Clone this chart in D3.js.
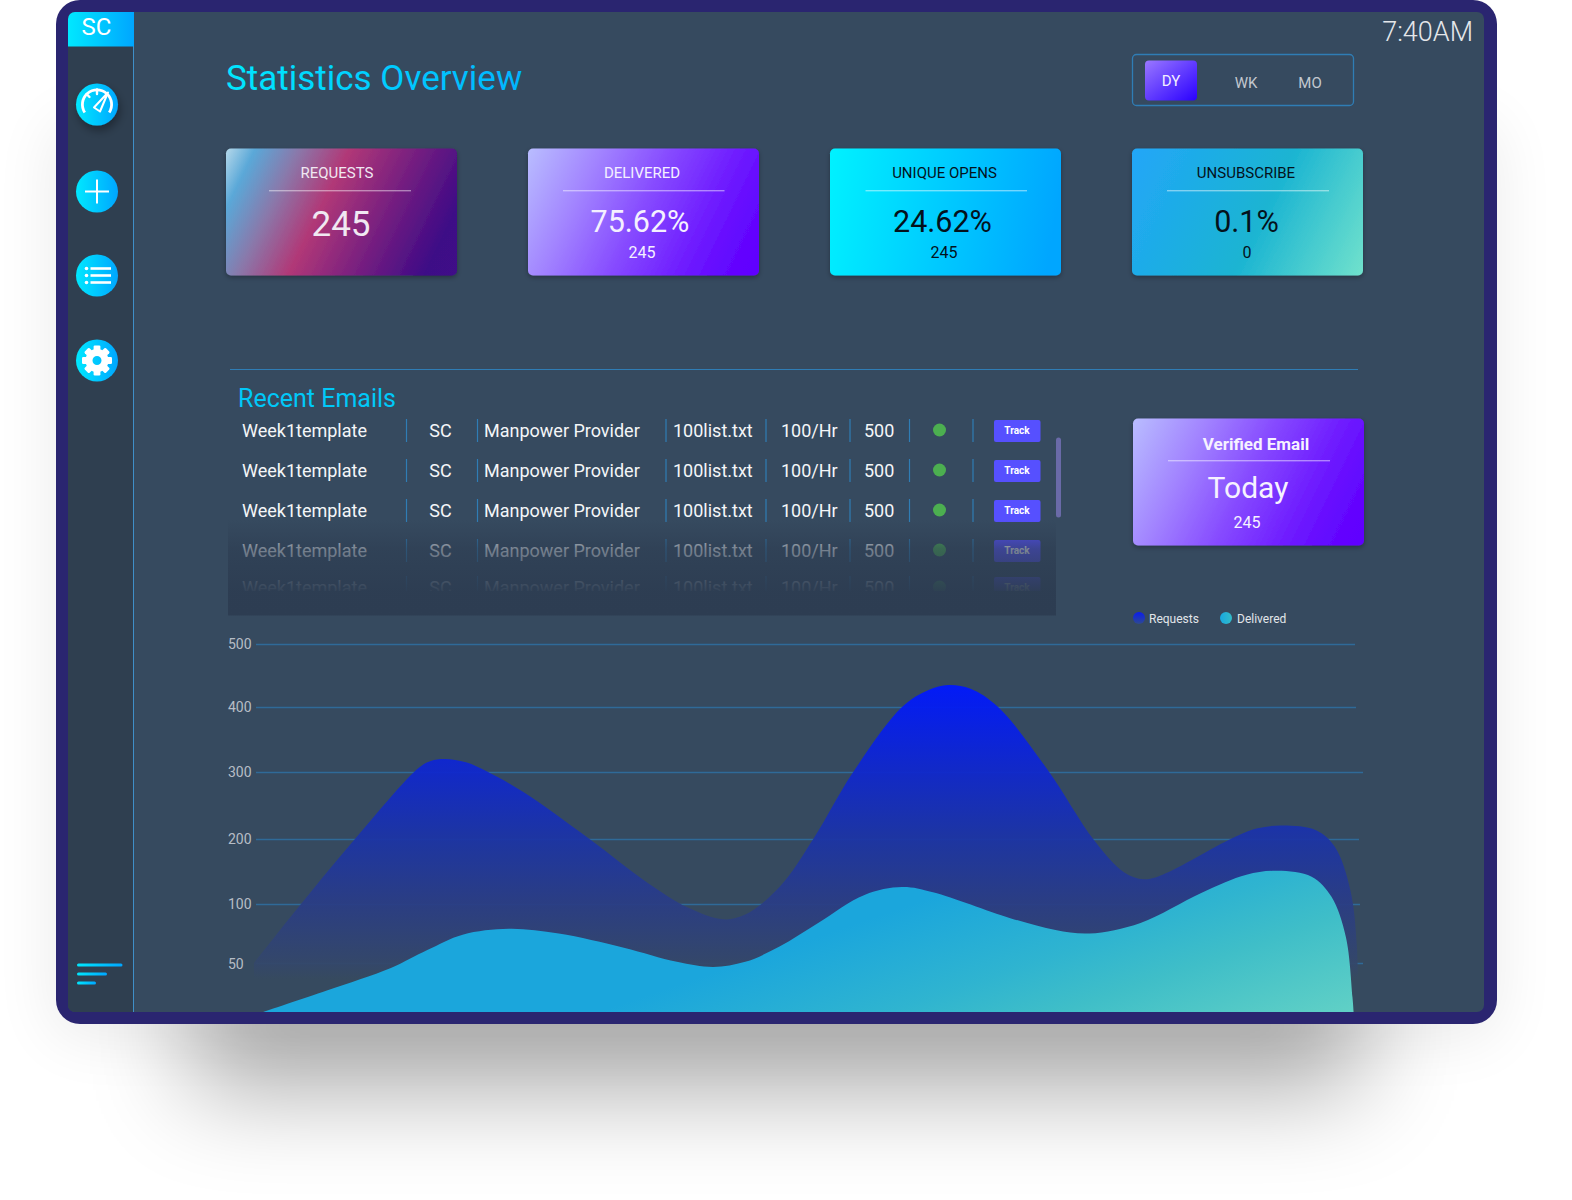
<!DOCTYPE html>
<html>
<head>
<meta charset="utf-8">
<script src="https://d3js.org/d3.v7.min.js"></script>
<style>
    html, body { margin: 0; padding: 0; background: #fff; }
    svg { display: block; font-family: Roboto, sans-serif; }
</style>
</head>
<body>
<svg id="page" width="1572" height="1200"></svg>
<script>
// chart values
var yTicks = [50, 100, 200, 300, 400, 500];
var requestX = [0, 4, 9.2, 14.9, 16, 17.3, 19.2, 21.2, 24.4, 30.3, 35.7, 39.3, 42.5, 44.5, 47.6, 50.7, 54.2, 58.7, 61.1, 62.9, 64.9, 67.4, 71.9, 76.1, 78.8, 80.6, 82.3, 88.6, 90.9, 93.2, 96.2, 97.9, 99.3, 99.9, 100];
var requestValues = [50, 97, 201, 306, 317, 320, 315, 300, 270, 201, 132, 97, 87, 91, 126, 201, 298, 400, 427, 435, 429, 400, 303, 198, 149, 138, 145, 201, 216, 220, 213, 188, 122, 64, 0];
var deliveredX = [0.8, 6.6, 12.4, 15.7, 18.9, 23.1, 27.6, 33.5, 38.3, 41.6, 44.5, 47.6, 51.1, 55.3, 58.7, 61.5, 68.5, 72.6, 75.7, 80.3, 85.8, 89.9, 92.7, 95.8, 97.6, 98.9, 99.5, 99.6];
var deliveredValues = [0, 22, 45, 61, 74, 79, 75, 63, 51, 46, 51, 64, 84, 114, 126, 118, 88, 78, 75, 84, 117, 145, 151, 142, 111, 72, 15, 0];

var legendLabels = ['Requests', 'Delivered'];
var cardTitles = ['REQUESTS', 'DELIVERED', 'UNIQUE OPENS', 'UNSUBSCRIBE'];
var cardValues = ['245', '75.62%', '24.62%', '0.1%'];
var cardSubs = ['', '245', '245', '0'];
var rangeLabels = ['DY', 'WK', 'MO'];
var emailRow = ['Week1template', 'SC', 'Manpower Provider', '100list.txt', '100/Hr', '500'];
var emailRowCount = 5;

var svg = d3.select('#page');
var defs = svg.append('defs');

function gradient(id, x1, y1, x2, y2, stops, user) {
    var g = defs.append('linearGradient').attr('id', id)
        .attr('x1', x1).attr('y1', y1).attr('x2', x2).attr('y2', y2);
    if (user) g.attr('gradientUnits', 'userSpaceOnUse');
    stops.forEach(function(s) {
        var st = g.append('stop').attr('offset', s[0]).attr('stop-color', s[1]);
        if (s[2] !== undefined) st.attr('stop-opacity', s[2]);
    });
}

gradient('cyan', 0, 0, 1, 0, [[0, '#00e8ff'], [1, '#00a6ff']]);
gradient('title', 226, 0, 522, 0, [[0, '#00e8ff'], [1, '#00b4ff']], true);
gradient('gradRequests', 0, 0, 238, 116, [[0, '#b5d8ea'], [0.1, '#5aa8d8'], [0.25, '#8a78aa'], [0.42, '#b13877'], [0.65, '#761f80'], [0.88, '#3e0a86'], [1, '#3f0c88']], true);
gradient('gradDelivered', 0, 0, 238, 116, [[0, '#b9bdff'], [0.25, '#a284ff'], [0.5, '#8548ff'], [0.7, '#7020ff'], [0.85, '#6408ff'], [1, '#6000ff']], true);
gradient('gradOpens', 0, 0, 231, 40, [[0, '#00f2ff'], [1, '#00a6ff']], true);
gradient('gradUnsub', 0, 0, 238, 116, [[0, '#22a6f8'], [0.55, '#1ab4d2'], [1, '#72e2cc']], true);
gradient('gradDy', 0, 0, 1, 1, [[0, '#9a78ff'], [1, '#2a00ff']]);
gradient('fade', 0, 0, 0, 1, [[0, '#2d3d52', 0], [0.3, '#2d3d52', 0.62], [0.75, '#2d3d52', 0.97], [1, '#2d3d52', 1]]);
gradient('areaRequests', 0, 685, 0, 1005, [[0, '#0018ff'], [0.48, '#1c34a5'], [0.68, '#2a3d85'], [0.87, '#34476a'], [0.92, '#364a5f'], [1, '#364a5f']], true);
gradient('areaDelivered', 933, 897, 1020.6, 1152.7, [[0, '#1ba6dc'], [0.35, '#2fb4d0'], [0.55, '#3fbec8'], [0.9, '#60d0c6'], [1, '#66d3c4']], true);
gradient('legendRequests', 0, 0, 0, 1, [[0, '#0a1cf0'], [1, '#2e4a90']]);
gradient('legendDelivered', 0, 0, 1, 0, [[0, '#18a8e0'], [1, '#34bcc8']]);

defs.append('filter').attr('id', 'blurBig').attr('x', '-30%').attr('y', '-80%').attr('width', '160%').attr('height', '260%')
    .append('feGaussianBlur').attr('stdDeviation', 50);
defs.append('filter').attr('id', 'blurWide').attr('x', '-20%').attr('y', '-20%').attr('width', '140%').attr('height', '140%')
    .append('feGaussianBlur').attr('stdDeviation', 30);
var cardShadow = defs.append('filter').attr('id', 'cardShadow').attr('x', '-10%').attr('y', '-10%').attr('width', '120%').attr('height', '130%');
cardShadow.append('feDropShadow').attr('dx', 0).attr('dy', 2).attr('stdDeviation', 2.5).attr('flood-color', '#000').attr('flood-opacity', 0.3);
var iconShadow = defs.append('filter').attr('id', 'iconShadow').attr('x', '-40%').attr('y', '-40%').attr('width', '180%').attr('height', '180%');
iconShadow.append('feDropShadow').attr('dx', 2).attr('dy', 5).attr('stdDeviation', 5).attr('flood-color', '#000').attr('flood-opacity', 0.35);

defs.append('clipPath').attr('id', 'screenClip').append('rect')
    .attr('x', 68).attr('y', 12).attr('width', 1416).attr('height', 1000).attr('rx', 7);
defs.append('clipPath').attr('id', 'rowsClip').append('rect')
    .attr('x', 228).attr('y', 410).attr('width', 827).attr('height', 181);

// device frame and its shadow
svg.append('rect').attr('x', 50).attr('y', 120).attr('width', 1450).attr('height', 920).attr('rx', 30)
    .attr('fill', '#000').attr('opacity', 0.07).attr('filter', 'url(#blurWide)');
svg.append('rect').attr('x', 190).attr('y', 960).attr('width', 1170).attr('height', 130)
    .attr('fill', '#000').attr('opacity', 0.33).attr('filter', 'url(#blurBig)');
svg.append('rect').attr('x', 56).attr('y', 0).attr('width', 1441).attr('height', 1024).attr('rx', 24).attr('fill', '#2a2570');

var screen = svg.append('g').attr('clip-path', 'url(#screenClip)');
screen.append('rect').attr('x', 68).attr('y', 12).attr('width', 1416).attr('height', 1000).attr('fill', '#364a5f');

// sidebar
screen.append('rect').attr('x', 68).attr('y', 12).attr('width', 65).attr('height', 1000).attr('fill', '#2f3f50');
screen.append('line').attr('x1', 133.5).attr('x2', 133.5).attr('y1', 46).attr('y2', 1012).attr('stroke', '#3f8fc8');
screen.append('rect').attr('x', 68).attr('y', 12).attr('width', 66).attr('height', 34.5).attr('fill', 'url(#cyan)');
screen.append('text').attr('x', 96.5).attr('y', 35).attr('text-anchor', 'middle').attr('font-size', 24).attr('fill', '#fff').text('SC');

var iconY = [104.5, 191.5, 275.5, 360.5];
var icons = svg.append('g').selectAll('g').data(iconY).join('g')
    .attr('transform', function(d) { return 'translate(97,' + d + ')'; });
icons.append('circle').attr('r', 21).attr('fill', 'url(#cyan)')
    .attr('filter', function(d, i) { return i === 0 ? 'url(#iconShadow)' : null; });

// gauge
var gauge = d3.select(icons.nodes()[0]).append('g').attr('fill', 'none').attr('stroke', '#fff').attr('stroke-linecap', 'round');
gauge.append('path').attr('fill', '#fff').attr('stroke', 'none')
    .attr('d', d3.arc().innerRadius(13.2).outerRadius(16).startAngle(-2.15).endAngle(2.15)());
gauge.append('line').attr('x1', 0).attr('x2', 0).attr('y1', -15).attr('y2', -10.5).attr('stroke-width', 2.4);
gauge.append('line').attr('x1', -10.5).attr('x2', -7.5).attr('y1', -10.5).attr('y2', -7.5).attr('stroke-width', 2.4);
gauge.append('path').attr('d', 'M-3 3L11 -12L3 7Z').attr('stroke-width', 2).attr('stroke-linejoin', 'round');

// plus
var plus = d3.select(icons.nodes()[1]).append('g').attr('stroke', '#fff').attr('stroke-width', 2);
plus.append('line').attr('x1', -12).attr('x2', 12);
plus.append('line').attr('y1', -12).attr('y2', 12);

// list
var list = d3.select(icons.nodes()[2]).append('g');
[-7, 0, 7].forEach(function(dy) {
    list.append('circle').attr('cx', -10.5).attr('cy', dy).attr('r', 1.8).attr('fill', '#fff');
    list.append('line').attr('x1', -6.5).attr('x2', 14).attr('y1', dy).attr('y2', dy).attr('stroke', '#fff').attr('stroke-width', 2.6);
});

// gear
var gear = d3.select(icons.nodes()[3]).append('g');
d3.range(8).forEach(function(i) {
    gear.append('rect').attr('x', -3.4).attr('y', -15).attr('width', 6.8).attr('height', 7).attr('rx', 1.2)
        .attr('fill', '#fff').attr('transform', 'rotate(' + i * 45 + ')');
});
gear.append('path').attr('fill', '#fff').attr('fill-rule', 'evenodd')
    .attr('d', d3.arc().innerRadius(4.5).outerRadius(11.5).startAngle(0).endAngle(2 * Math.PI)());

// menu lines at the bottom of the sidebar
[[77, 122.5, 965], [77, 107, 974], [77, 96, 983]].forEach(function(l) {
    svg.append('rect').attr('x', l[0]).attr('y', l[2] - 1.5).attr('width', l[1] - l[0]).attr('height', 3).attr('rx', 1.5).attr('fill', 'url(#cyan)');
});

// header
screen.append('text').attr('x', 226).attr('y', 89.5).attr('font-size', 35).attr('fill', 'url(#title)').text('Statistics Overview');
screen.append('text').attr('x', 1473).attr('y', 41).attr('text-anchor', 'end').attr('font-size', 27).attr('font-weight', 300).attr('fill', '#e4e7ea').text('7:40AM');

screen.append('rect').attr('x', 1132.5).attr('y', 54.5).attr('width', 221).attr('height', 51).attr('rx', 4)
    .attr('fill', 'none').attr('stroke', '#2f7db5').attr('stroke-width', 1.3);
screen.append('rect').attr('x', 1145).attr('y', 60.5).attr('width', 52).attr('height', 40).attr('rx', 4).attr('fill', 'url(#gradDy)');
var rangeX = [1171, 1246, 1310];
var rangeBase = [85.5, 87.5, 87.5];
screen.selectAll('.range').data(rangeLabels).join('text').attr('class', 'range')
    .attr('x', function(d, i) { return rangeX[i]; })
    .attr('y', function(d, i) { return rangeBase[i]; })
    .attr('text-anchor', 'middle').attr('font-size', 15)
    .attr('fill', function(d, i) { return i === 0 ? '#f2efff' : '#c3c8cf'; })
    .text(function(d) { return d; });

// stat cards
var cardFills = ['gradRequests', 'gradDelivered', 'gradOpens', 'gradUnsub'];
var cardX = [226, 528, 830, 1132];
var cardInk = ['#f0e8f2', '#f4f0ff', '#04121c', '#04121c'];
var titleX = [111, 114, 114.5, 114];
var ruleX = [43, 35, 35.5, 35];
var ruleW = [142, 161.5, 161.5, 162];
var valueX = [115, 112, 112.5, 114.5];
var valueBase = [87, 83, 83, 83];
var valueSize = [35, 30.5, 30.5, 30.5];
var subX = [114, 114, 114, 115];

var cards = screen.selectAll('.card').data(cardTitles).join('g').attr('class', 'card')
    .attr('transform', function(d, i) { return 'translate(' + cardX[i] + ',148.5)'; });
cards.append('rect').attr('width', 231).attr('height', 127).attr('rx', 5)
    .attr('fill', function(d, i) { return 'url(#' + cardFills[i] + ')'; })
    .attr('filter', 'url(#cardShadow)');
cards.append('text').attr('x', function(d, i) { return titleX[i]; }).attr('y', 29.5)
    .attr('text-anchor', 'middle').attr('font-size', 15)
    .attr('fill', function(d, i) { return cardInk[i]; }).text(function(d) { return d; });
cards.append('rect').attr('x', function(d, i) { return ruleX[i]; }).attr('y', 41.5)
    .attr('width', function(d, i) { return ruleW[i]; }).attr('height', 1.4)
    .attr('fill', '#fff').attr('opacity', 0.45);
cards.append('text').attr('x', function(d, i) { return valueX[i]; })
    .attr('y', function(d, i) { return valueBase[i]; })
    .attr('text-anchor', 'middle')
    .attr('font-size', function(d, i) { return valueSize[i]; })
    .attr('fill', function(d, i) { return cardInk[i]; })
    .text(function(d, i) { return cardValues[i]; });
cards.append('text').attr('x', function(d, i) { return subX[i]; }).attr('y', 109.5)
    .attr('text-anchor', 'middle').attr('font-size', 16)
    .attr('fill', function(d, i) { return cardInk[i]; })
    .text(function(d, i) { return cardSubs[i]; });

// divider and recent emails
screen.append('line').attr('x1', 230).attr('x2', 1358).attr('y1', 369.5).attr('y2', 369.5).attr('stroke', '#2f7db5');
screen.append('text').attr('x', 238).attr('y', 407).attr('font-size', 25).attr('fill', '#00c8f8').text('Recent Emails');

var colX = [242, 440.5, 484, 673, 781, 864];
var colAnchor = ['start', 'middle', 'start', 'start', 'start', 'start'];
var sepX = [406.5, 477.5, 666, 766, 850, 909.5, 973];

var rows = screen.append('g').attr('clip-path', 'url(#rowsClip)')
    .selectAll('g').data(d3.range(emailRowCount)).join('g')
    .attr('transform', function(d) { return 'translate(0,' + (d < 4 ? d * 40 : 157) + ')'; });
rows.selectAll('.cell').data(emailRow).join('text').attr('class', 'cell')
    .attr('x', function(d, i) { return colX[i]; })
    .attr('y', 437)
    .attr('text-anchor', function(d, i) { return colAnchor[i]; })
    .attr('font-size', 18).attr('fill', '#f4f6f8').text(function(d) { return d; });
rows.selectAll('.sep').data(sepX).join('line').attr('class', 'sep')
    .attr('x1', function(d) { return d; }).attr('x2', function(d) { return d; })
    .attr('y1', 419).attr('y2', 442).attr('stroke', '#2f7db5').attr('stroke-width', 1.2);
rows.append('circle').attr('cx', 939.5).attr('cy', 430).attr('r', 6.5).attr('fill', '#4caf50');
rows.append('rect').attr('x', 994).attr('y', 420).attr('width', 46.5).attr('height', 22).attr('rx', 2).attr('fill', '#5650ff');
rows.append('text').attr('x', 1017).attr('y', 434).attr('text-anchor', 'middle').attr('font-size', 10)
    .attr('font-weight', 700).attr('fill', '#fff').text('Track');

screen.append('rect').attr('x', 228).attr('y', 520).attr('width', 828).attr('height', 95.5).attr('fill', 'url(#fade)');
screen.append('rect').attr('x', 1056).attr('y', 437.5).attr('width', 5).attr('height', 80).attr('rx', 2.5).attr('fill', '#6a6aa8');

// verified email card
var verified = screen.append('g').attr('transform', 'translate(1133,418.5)');
verified.append('rect').attr('width', 231).attr('height', 127).attr('rx', 5)
    .attr('fill', 'url(#gradDelivered)').attr('filter', 'url(#cardShadow)');
verified.append('text').attr('x', 123).attr('y', 31.5).attr('text-anchor', 'middle').attr('font-size', 17).attr('font-weight', 700).attr('fill', '#f6f2ff').text('Verified Email');
verified.append('rect').attr('x', 35).attr('y', 41.5).attr('width', 162).attr('height', 1.4).attr('fill', '#fff').attr('opacity', 0.45);
verified.append('text').attr('x', 115).attr('y', 79).attr('text-anchor', 'middle').attr('font-size', 30).attr('fill', '#f6f2ff').text('Today');
verified.append('text').attr('x', 114).attr('y', 109.5).attr('text-anchor', 'middle').attr('font-size', 16).attr('fill', '#f6f2ff').text('245');

// legend
var legendDot = [1139, 1226];
var legendText = [1149, 1237];
var legendFill = ['legendRequests', 'legendDelivered'];
var legend = screen.selectAll('.legend').data(legendLabels).join('g').attr('class', 'legend');
legend.append('circle').attr('cx', function(d, i) { return legendDot[i]; }).attr('cy', 618).attr('r', 6)
    .attr('fill', function(d, i) { return 'url(#' + legendFill[i] + ')'; });
legend.append('text').attr('x', function(d, i) { return legendText[i]; }).attr('y', 622.5)
    .attr('font-size', 12).attr('fill', '#e2e6ea').text(function(d) { return d; });

// area chart: the value axis is not even, so the scale has a stop per tick
var x = d3.scaleLinear().domain([0, 100]).range([254, 1358]);
var y = d3.scaleLinear().domain([0, 50, 100, 200, 300, 400, 500]).range([1012, 963, 904, 839, 772, 707, 644]);

var gridEnd = [1363, 1360, 1359, 1363, 1356, 1355];
screen.selectAll('.grid').data(yTicks).join('line').attr('class', 'grid')
    .attr('x1', 256).attr('x2', function(d, i) { return gridEnd[i]; })
    .attr('y1', function(d) { return y(d) + 0.5; }).attr('y2', function(d) { return y(d) + 0.5; })
    .attr('stroke', '#2f6a98').attr('stroke-width', 1.4);

var yAxis = screen.append('g').attr('transform', 'translate(228,0)')
    .call(d3.axisLeft(y).tickValues(yTicks).tickSize(0).tickPadding(0));
yAxis.select('.domain').remove();
yAxis.selectAll('text').attr('text-anchor', 'start').attr('x', 0)
    .attr('dy', function(d) { return d === 50 ? '0.42em' : '0.32em'; })
    .attr('font-size', 14).attr('font-family', 'Roboto, sans-serif').attr('fill', '#b6bdc6');

function areaFor(xs, values) {
    return d3.area()
        .x(function(d, i) { return x(xs[i]); })
        .y0(y(0))
        .y1(function(d) { return y(d); })
        .curve(d3.curveCatmullRom.alpha(0.5))(values);
}

screen.append('path').attr('d', areaFor(requestX, requestValues)).attr('fill', 'url(#areaRequests)').attr('opacity', 0.95);
screen.append('path').attr('d', areaFor(deliveredX, deliveredValues)).attr('fill', 'url(#areaDelivered)');
</script>
</body>
</html>
